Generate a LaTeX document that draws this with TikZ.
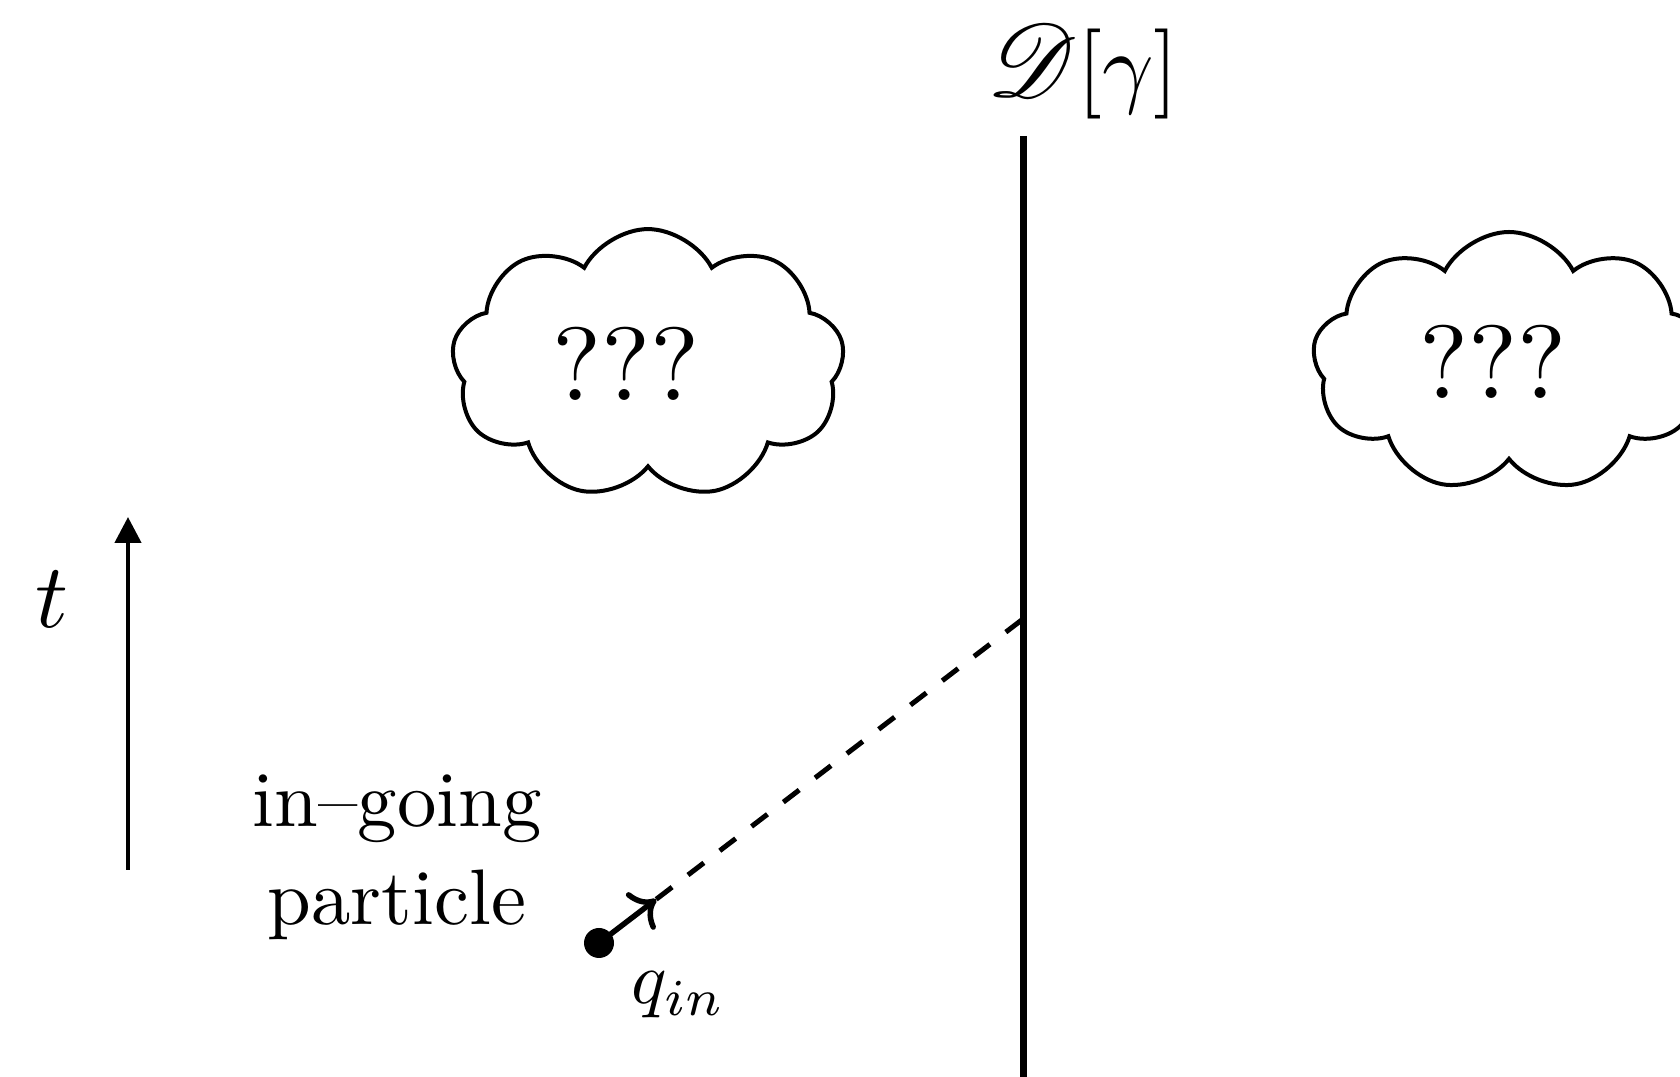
\documentclass[tikz,border=0pt]{standalone}
\usepackage{mathrsfs}
\usepackage{graphicx}
\usepackage{xcolor}
\definecolor{ink}{RGB}{0,0,0}
\usepackage{tikz}
\usetikzlibrary{arrows.meta,positioning,calc,shapes.symbols}
\tikzset{
  puff/.style={cloud, cloud puffs=9, cloud puff arc=125, aspect=1.38,
    draw=ink, fill=white, line width=0.04cm,
    minimum width=3.93cm, minimum height=2.6cm,
    font=\fontsize{10}{12}\selectfont},
  wall/.style={draw=ink, line width=0.07cm},
  timeaxis/.style={draw=ink, line width=0.045cm,
    -{Triangle[width=0.26cm,length=0.26cm]}},
  trajectory/.style={draw=ink, line width=0.05cm,
    dash pattern=on 0.2cm off 0.2cm},
  kick/.style={draw=ink, line width=0.055cm,
    -{Computer Modern Rightarrow[length=0.22cm,width=0.46cm]}},
  charge/.style={circle, fill=ink, inner sep=0pt, minimum size=0.3cm},
  lbl/.style={inner sep=0pt, text=ink, font=\fontsize{10}{12.4}\selectfont},
}

\begin{document}
\begin{tikzpicture}
\useasboundingbox (0,0) rectangle (16.8,10.77);
% wall
\coordinate (wtop) at (10.23,9.41);
\coordinate (wbot) at (10.23,0);
\coordinate (hit) at (10.23,4.58);
\draw[wall] (wtop) -- (wbot);
\node[lbl, scale=2.56, anchor=base] (dlab) at (10.83,9.80)
  {$\mbox{\scalebox{1.15}{$\mathscr{D}$}}[\gamma]$};
% clouds
\node[puff] (cleft) at (6.48,7.13) {\scalebox{2.96}{???}\hspace*{0.44cm}};
\node[puff] (cright) at (15.09,7.15) {\scalebox{2.96}{???}\hspace*{0.32cm}};
% time axis
\coordinate (t0) at (1.28,2.07);
\coordinate (t1) at (1.28,5.60);
\draw[timeaxis] (t0) -- (t1);
\node[lbl, scale=2.6] (tlab) at (0.52,4.78) {$t$};
% in-going particle
\node[charge] (q) at (5.99,1.34) {};
\coordinate (tip) at ($(q.center)!0.72cm!(hit)$);
\draw[trajectory] (tip) -- (hit);
\draw[kick] (q.center) -- (tip);
\node[lbl, scale=2.1, anchor=base west] (qlab) at (6.30,0.73) {$q_{in}$};
\node[lbl, scale=2.24, align=center] (inlab) at (3.97,2.20)
  {in--going\\particle};
\end{tikzpicture}
\end{document}
